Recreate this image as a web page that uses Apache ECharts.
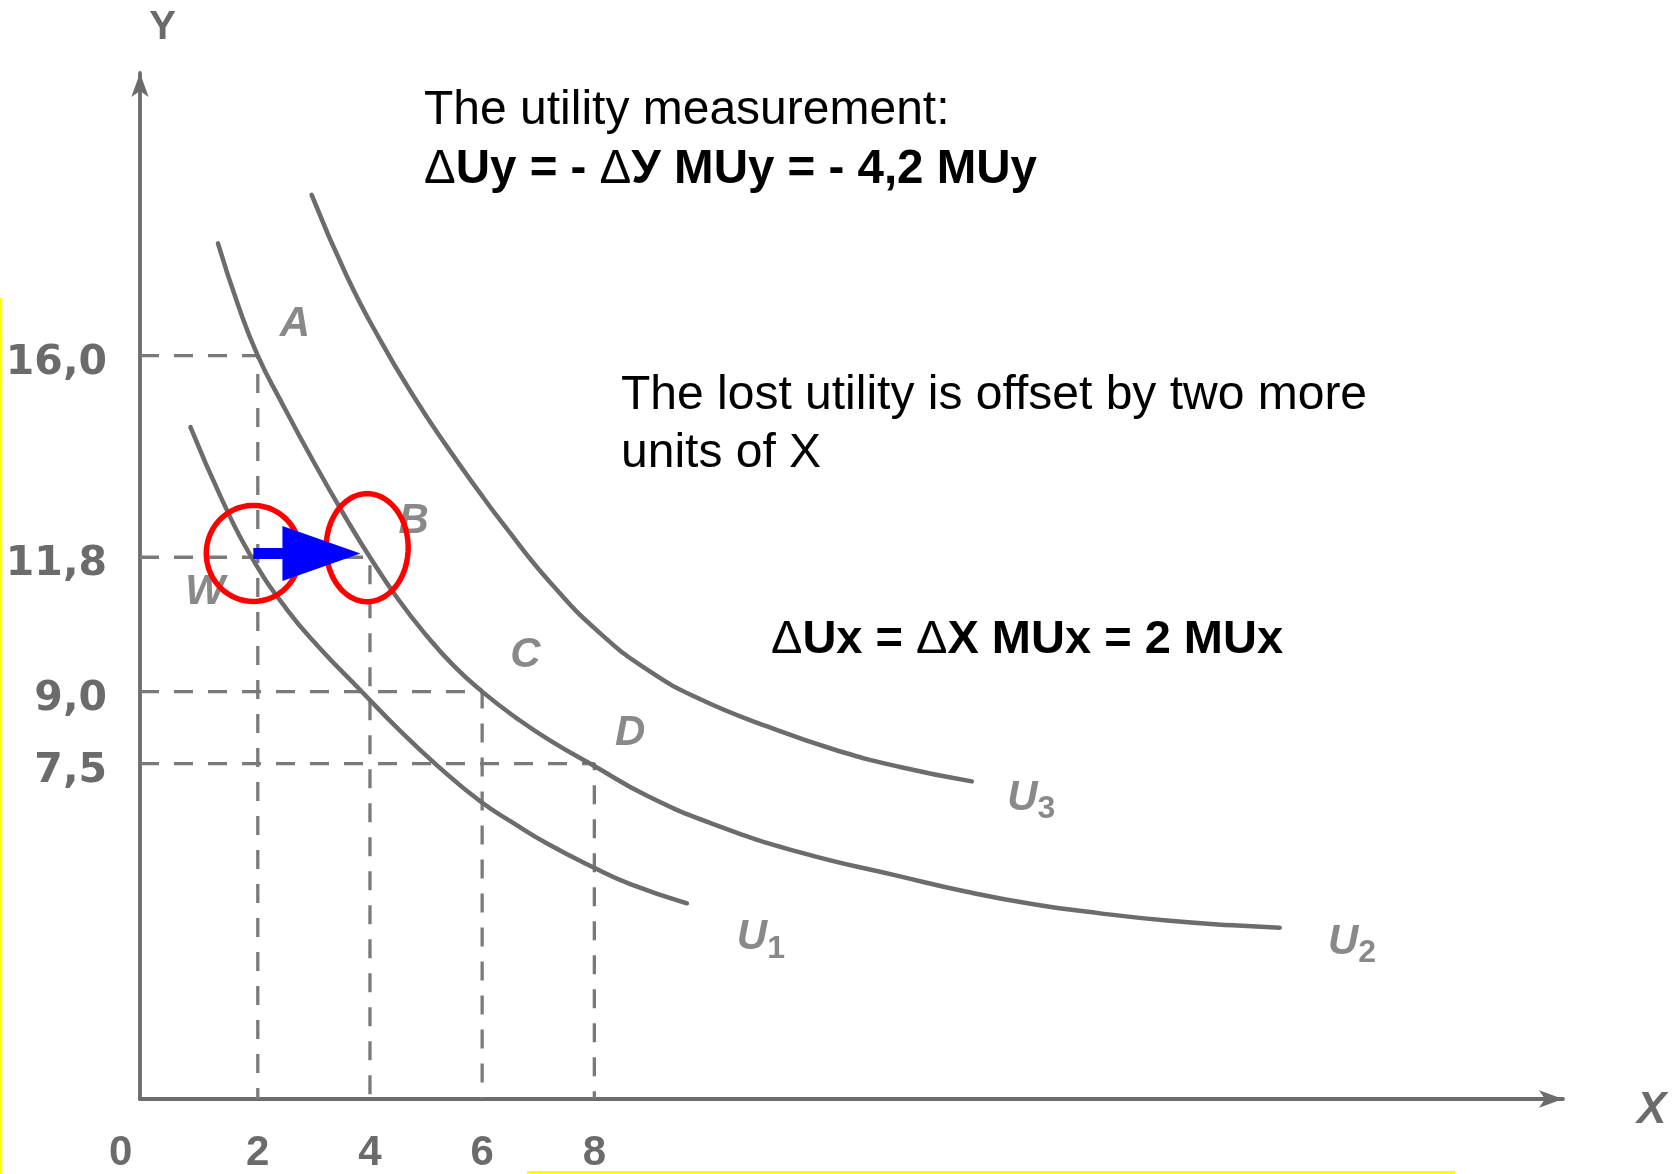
<!DOCTYPE html>
<html><head><meta charset="utf-8">
<script src="https://cdn.jsdelivr.net/npm/echarts@6/dist/echarts.min.js"></script>
<style>html,body{margin:0;padding:0;background:#fff}#c{width:1676px;height:1174px}</style>
</head><body><div id="c"></div>
<script>
// ---- data ----
const xTicks = [0, 2, 4, 6, 8];
const yTicks = [7.5, 9.0, 11.8, 16.0];
const yTickLabels = ['7,5', '9,0', '11,8', '16,0'];
const xRange = [-0.1, 25.27];
const yRange = [0.512, 21.89];

const u1 = [[0.80,14.51],[1.37,12.98],[1.88,11.82],[2.52,10.71],[3.11,9.90],[3.83,9.03],[4.48,8.25],[5.19,7.47],[5.96,6.72],[6.56,6.26],[7.15,5.84],[7.98,5.34],[8.64,4.99],[9.65,4.59]];
const u2 = [[1.29,18.34],[1.65,17.05],[2.00,16.00],[2.40,15.08],[3.00,13.78],[3.60,12.56],[4.00,11.80],[4.50,10.93],[5.00,10.18],[5.50,9.53],[6.00,9.00],[6.60,8.46],[7.20,7.99],[8.00,7.45],[8.94,6.83],[10.12,6.24],[11.67,5.65],[13.45,5.15],[14.64,4.83],[15.83,4.57],[17.02,4.38],[18.21,4.23],[19.39,4.13],[20.22,4.08]];
const u3 = [[2.96,19.35],[3.59,17.65],[4.18,16.33],[4.78,15.15],[5.37,14.11],[5.96,13.14],[6.37,12.50],[7.21,11.28],[8.10,10.22],[8.99,9.42],[9.89,8.84],[11.07,8.28],[12.26,7.80],[13.45,7.43],[14.73,7.13]];

const guidePoints = [[2, 16.0], [4, 11.8], [6, 9.0], [8, 7.5]];
const pointLetters = ['A', 'B', 'C', 'D', 'W'];
const pointLetterAt = [[2.66,16.66],[4.78,12.55],[6.77,9.75],[8.64,8.13],[1.06,11.07]];
const curveIndex = ['1', '2', '3'];
const curveLabelAt = [[10.97,3.87],[21.51,3.78],[15.79,6.77]];
const circleCenters = [[1.92,11.88],[3.95,12.0]];
const arrowFrom = [1.92, 11.88];
const arrowTo = [3.83, 11.88];

// ---- styles ----
const SCAN = '#6c6c6c';
const SCANTXT = '#6b6b6b';
const SANS = '"Liberation Sans", Arial, sans-serif';
const DEJA = '"DejaVu Sans", sans-serif';

const chart = echarts.init(document.getElementById('c'), null, {renderer: 'canvas'});

const guideSeries = guidePoints.map(p => ({
  type: 'line', z: 1, silent: true, symbol: 'none', animation: false,
  data: [[xRange[0], p[1]], [p[0], p[1]], [p[0], yRange[0]]],
  lineStyle: {color: '#7a7a7a', width: 3.3, type: [19, 15]}
}));

function curve(data) {
  return {type: 'line', z: 2, silent: true, symbol: 'none', smooth: 0.5, animation: false,
    data: data, lineStyle: {color: SCAN, width: 4.5, cap: 'round'}};
}

const ellipseR = [[47, 48], [41, 54]];

chart.setOption({
  animation: false,
  grid: {left: 140, right: 113, top: 73, bottom: 74},
  xAxis: {
    type: 'value', min: xRange[0], max: xRange[1],
    name: 'X', nameLocation: 'end', nameGap: 74,
    nameTextStyle: {fontSize: 44, fontWeight: 'bold', fontStyle: 'italic', color: SCANTXT, fontFamily: SANS, verticalAlign: 'top', lineHeight: 24},
    axisLine: {show: true, onZero: false, symbol: ['none', 'arrow'], symbolSize: [13, 24], lineStyle: {color: SCAN, width: 3.8}},
    axisTick: {show: false},
    splitLine: {show: false},
    axisLabel: {
      customValues: xTicks, margin: 33, fontSize: 42, fontWeight: 'bold', color: SCANTXT, fontFamily: SANS,
      formatter: v => v === 0 ? '{z|0}' : String(v),
      rich: {z: {fontSize: 42, fontWeight: 'bold', color: SCANTXT, fontFamily: SANS, padding: [0, 50, 0, 0]}}
    }
  },
  yAxis: {
    type: 'value', min: yRange[0], max: yRange[1],
    name: 'Y', nameLocation: 'end', nameGap: 25,
    nameTextStyle: {fontSize: 40, fontWeight: 'bold', color: SCANTXT, fontFamily: SANS, padding: [0, 0, 0, 45]},
    axisLine: {show: true, onZero: false, symbol: ['none', 'arrow'], symbolSize: [13, 24], lineStyle: {color: SCAN, width: 3.8}},
    axisTick: {show: false},
    splitLine: {show: false},
    axisLabel: {
      customValues: yTicks, margin: 33, fontSize: 41, fontWeight: 'bold', color: SCANTXT, fontFamily: DEJA,
      verticalAlign: 'top', lineHeight: 15,
      formatter: v => { const i = yTicks.findIndex(t => Math.abs(t - v) < 1e-6); return i >= 0 ? yTickLabels[i] : ''; }
    }
  },
  series: [
    ...guideSeries,
    curve(u1), curve(u2), curve(u3),
    {
      type: 'scatter', z: 3, silent: true, symbolSize: 1, itemStyle: {color: 'rgba(0,0,0,0)'},
      data: pointLetters.map((n, i) => ({name: n, value: pointLetterAt[i]})),
      label: {show: true, position: 'inside', formatter: '{b}', fontSize: 42, fontWeight: 'bold', fontStyle: 'italic', color: SCANTXT, fontFamily: SANS}
    },
    {
      type: 'scatter', z: 3, silent: true, symbolSize: 1, itemStyle: {color: 'rgba(0,0,0,0)'},
      data: curveIndex.map((n, i) => ({name: n, value: curveLabelAt[i]})),
      label: {show: true, position: 'inside', formatter: p => '{u|U}{s|' + p.name + '}',
        rich: {
          u: {fontSize: 42, fontStyle: 'italic', fontWeight: 'bold', color: SCANTXT, fontFamily: SANS, lineHeight: 42},
          s: {fontSize: 32, fontWeight: 'bold', color: SCANTXT, fontFamily: SANS, padding: [22, 0, 0, 0], lineHeight: 32}
        }}
    },
    {
      type: 'custom', z: 5, silent: true, coordinateSystem: 'cartesian2d', clip: false,
      data: circleCenters,
      renderItem: (params, api) => {
        const c = api.coord([api.value(0), api.value(1)]);
        const r = ellipseR[params.dataIndex];
        const pts = [];
        for (let k = 0; k < 96; k++) {
          const a = k / 96 * Math.PI * 2;
          pts.push([c[0] + r[0] * Math.cos(a), c[1] + r[1] * Math.sin(a)]);
        }
        return {type: 'polygon', shape: {points: pts}, style: {fill: 'none', stroke: '#ff0000', lineWidth: 5.5}};
      }
    },
    {
      type: 'custom', z: 6, silent: true, coordinateSystem: 'cartesian2d', clip: false,
      data: [[arrowFrom[0], arrowFrom[1], arrowTo[0], arrowTo[1]]],
      renderItem: (params, api) => {
        const a = api.coord([api.value(0), api.value(1)]);
        const b = api.coord([api.value(2), api.value(3)]);
        const y = a[1];
        const hb = b[0] - 78;
        const pts = [[a[0], y - 5.5], [hb, y - 5.5], [hb, y - 27.5], [b[0], b[1]], [hb, y + 27.5], [hb, y + 5.5], [a[0], y + 5.5]];
        return {type: 'polygon', shape: {points: pts}, style: {fill: '#0000ff', stroke: 'none'}};
      }
    }
  ],
  graphic: [
    {type: 'text', x: 424, y: 111, style: {text: 'The utility measurement:', fontSize: 48, fontFamily: SANS, fill: '#000', align: 'left', verticalAlign: 'middle'}},
    {type: 'text', x: 424, y: 170, style: {text: '{d|Δ}Uy = - {d|Δ}У MUy = - 4,2 MUy', fontSize: 47.5, fontWeight: 'bold', fontFamily: SANS, fill: '#000', align: 'left', verticalAlign: 'middle',
      rich: {d: {fontSize: 47.5, fontWeight: 'normal', fontFamily: SANS, fill: '#000'}}}},
    {type: 'text', x: 621, y: 396, style: {text: 'The lost utility is offset by two more', fontSize: 48, fontFamily: SANS, fill: '#000', align: 'left', verticalAlign: 'middle'}},
    {type: 'text', x: 621, y: 454, style: {text: 'units of X', fontSize: 48, fontFamily: SANS, fill: '#000', align: 'left', verticalAlign: 'middle'}},
    {type: 'text', x: 771, y: 640, style: {text: '{d|Δ}Ux = {d|Δ}X MUx = 2 MUx', fontSize: 47, fontWeight: 'bold', fontFamily: SANS, fill: '#000', align: 'left', verticalAlign: 'middle',
      rich: {d: {fontSize: 47, fontWeight: 'normal', fontFamily: SANS, fill: '#000'}}}},
    {type: 'line', shape: {x1: 1, y1: 298, x2: 1, y2: 1174}, style: {stroke: '#ffff00', lineWidth: 2.5}},
    {type: 'line', shape: {x1: 527, y1: 1172.5, x2: 1455, y2: 1172.5}, style: {stroke: '#ffff00', lineWidth: 3}}
  ]
});
</script>
</body></html>
